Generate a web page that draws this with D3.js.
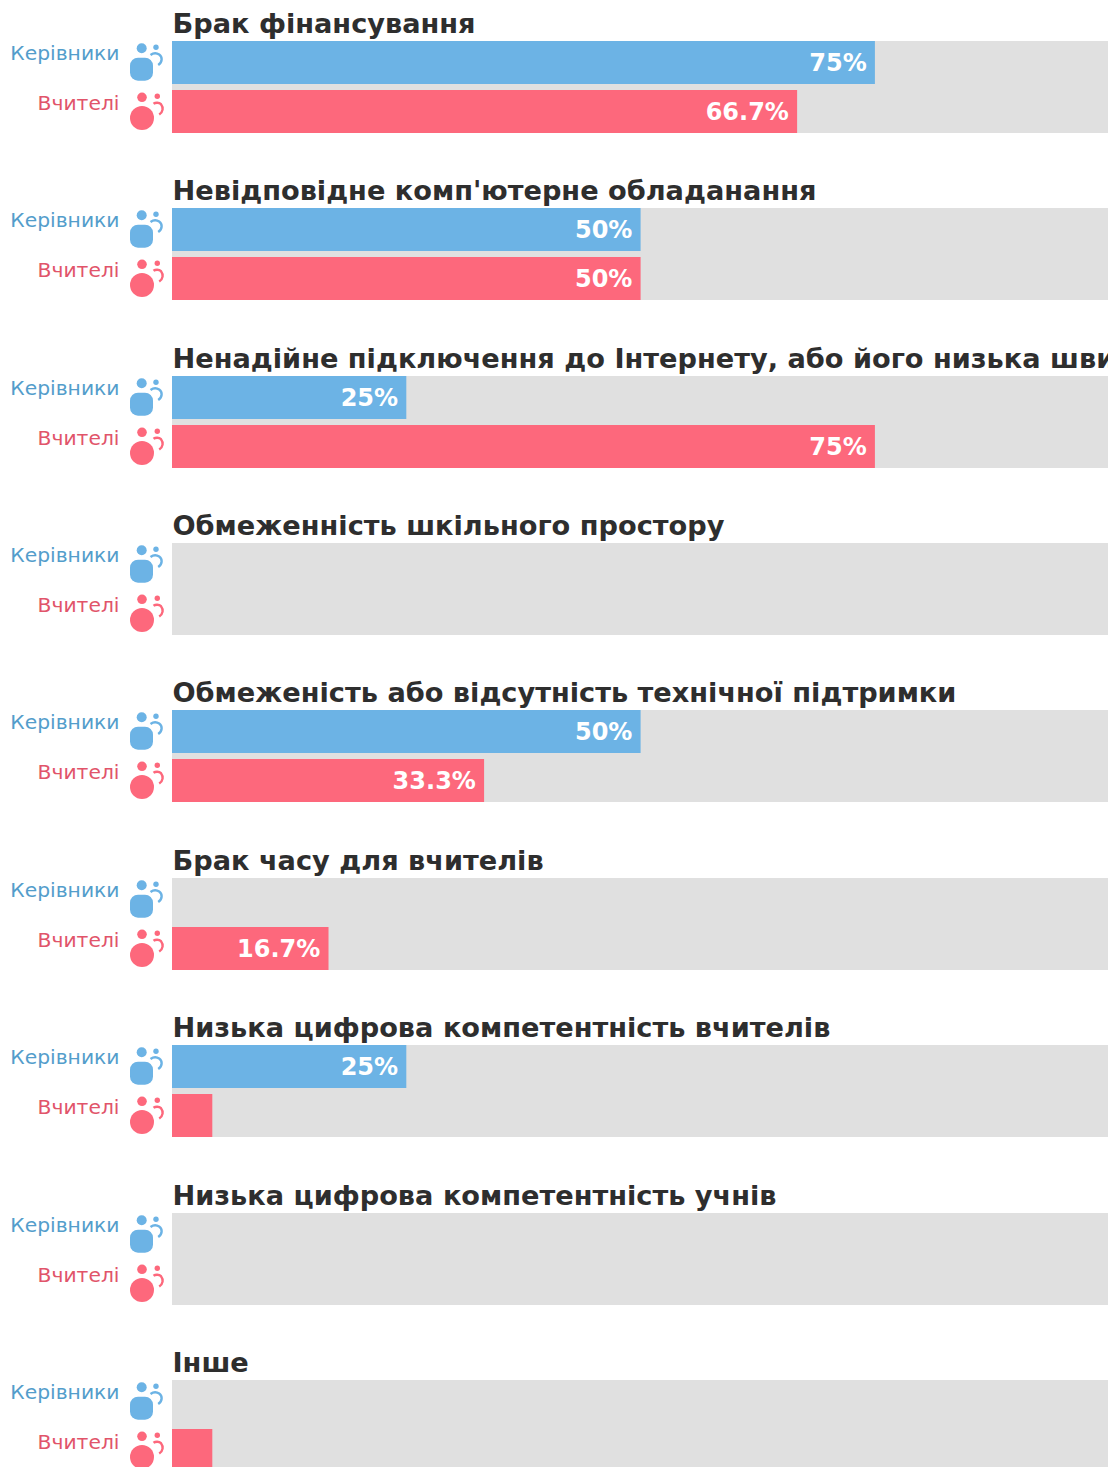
<!DOCTYPE html>
<html>
<head>
<meta charset="utf-8">
<script src="https://cdn.jsdelivr.net/npm/d3@7"></script>
<style>
  html, body { margin: 0; padding: 0; background: #fff; overflow: hidden; }
  text { font-family: "DejaVu Sans", sans-serif; }
</style>
</head>
<body>
<script>
// chart values
const categories = [
    'Брак фінансування',
    'Невідповідне комп\'ютерне обладанання',
    'Ненадійне підключення до Інтернету, або його низька швидкість',
    'Обмеженність шкільного простору',
    'Обмеженість або відсутність технічної підтримки',
    'Брак часу для вчителів',
    'Низька цифрова компетентність вчителів',
    'Низька цифрова компетентність учнів',
    'Інше'
]
const seriesNames = ['Керівники', 'Вчителі']
const managers = [75, 50, 25, 0, 50, 0, 25, 0, 0]
const teachers = [66.7, 50, 75, 0, 33.3, 16.7, 4.3, 0, 4.3]

const seriesColors = ['#6cb3e5', '#fd687c']
const labelColors = ['#539dcb', '#e1546a']

const width = 1111, height = 1467
const left = 172, right = 1109.2, trackEnd = 1108
const groupStep = 167.38, firstTop = 40.9, rowsHeight = 92

const svg = d3.select('body').append('svg')
    .attr('width', width)
    .attr('height', height)
    .style('display', 'block')

// long titles get cut where the grey track ends
svg.append('clipPath').attr('id', 'plot-clip')
    .append('rect')
    .attr('x', 0).attr('y', -60)
    .attr('width', trackEnd).attr('height', 120)

const x = d3.scaleLinear().domain([0, 100]).range([left, right])
const y = d3.scaleBand()
    .domain(categories)
    .range([firstTop, firstTop + groupStep * categories.length])
const row = d3.scaleBand()
    .domain(seriesNames)
    .range([0, rowsHeight])
    .paddingInner(6 / 49)

const groups = svg.selectAll('.group')
    .data(categories)
    .enter().append('g')
    .attr('class', 'group')
    .attr('transform', d => 'translate(0,' + Math.round(y(d)) + ')')

// grey track behind each pair of bars
groups.append('rect')
    .attr('x', x(0))
    .attr('width', trackEnd - x(0))
    .attr('height', rowsHeight)
    .attr('fill', '#e0e0e0')

groups.append('text')
    .attr('class', 'title')
    .attr('x', x(0) + 0.5)
    .attr('y', -8.5)
    .attr('clip-path', 'url(#plot-clip)')
    .attr('font-size', 27.2)
    .attr('font-weight', 700)
    .attr('fill', '#2e2e2e')
    .text(d => d)

function rowsFor(name, i) {
    return seriesNames.map((s, k) => ({
        series: s,
        k: k,
        value: (k === 0 ? managers : teachers)[i]
    }))
}

const rows = groups.selectAll('.row')
    .data(rowsFor)
    .enter().append('g')
    .attr('class', 'row')
    .attr('transform', d => 'translate(0,' + row(d.series) + ')')

rows.append('rect')
    .attr('class', 'bar')
    .attr('x', x(0))
    .attr('width', d => x(d.value) - x(0))
    .attr('height', row.bandwidth())
    .attr('fill', d => seriesColors[d.k])

// values too small for the bar get no label
rows.filter(d => d.value >= 10).append('text')
    .attr('x', d => x(d.value) - 8.2)
    .attr('y', 29.7)
    .attr('text-anchor', 'end')
    .attr('font-size', 24)
    .attr('font-weight', 700)
    .attr('fill', '#fff')
    .text(d => d.value + '%')

rows.append('text')
    .attr('x', 119.5)
    .attr('y', d => d.k ? 20 : 19.4)
    .attr('text-anchor', 'end')
    .attr('font-size', 20.3)
    .attr('fill', d => labelColors[d.k])
    .text(d => d.series)

// small people icons, blue one has a square body, red one a round body
const icons = rows.append('g')
    .attr('fill', d => seriesColors[d.k])

icons.append('circle')
    .attr('cx', d => d.k ? 142 : 141.7)
    .attr('cy', 7.3)
    .attr('r', d => d.k ? 4.8 : 5)
icons.append('circle')
    .attr('cx', d => d.k ? 157.3 : 156)
    .attr('cy', 6.2)
    .attr('r', 2.7)
icons.filter(d => d.k === 0).append('rect')
    .attr('x', 130).attr('y', 16.7)
    .attr('width', 23).attr('height', 23)
    .attr('rx', 8)
icons.filter(d => d.k === 1).append('circle')
    .attr('cx', 142).attr('cy', 28)
    .attr('r', 12)
icons.append('path')
    .attr('fill', 'none')
    .attr('stroke', d => seriesColors[d.k])
    .attr('stroke-width', 2.4)
    .attr('d', d => d.k
        ? 'M153.5,13.8C155.5,12.3 159,12.2 161,14.2C163.6,17.5 163.2,22 159.2,24.6'
        : 'M150.5,14C153,12.2 156.5,11.8 159.2,13.6C162.6,16 162.6,21 158.2,24')
</script>
</body>
</html>
